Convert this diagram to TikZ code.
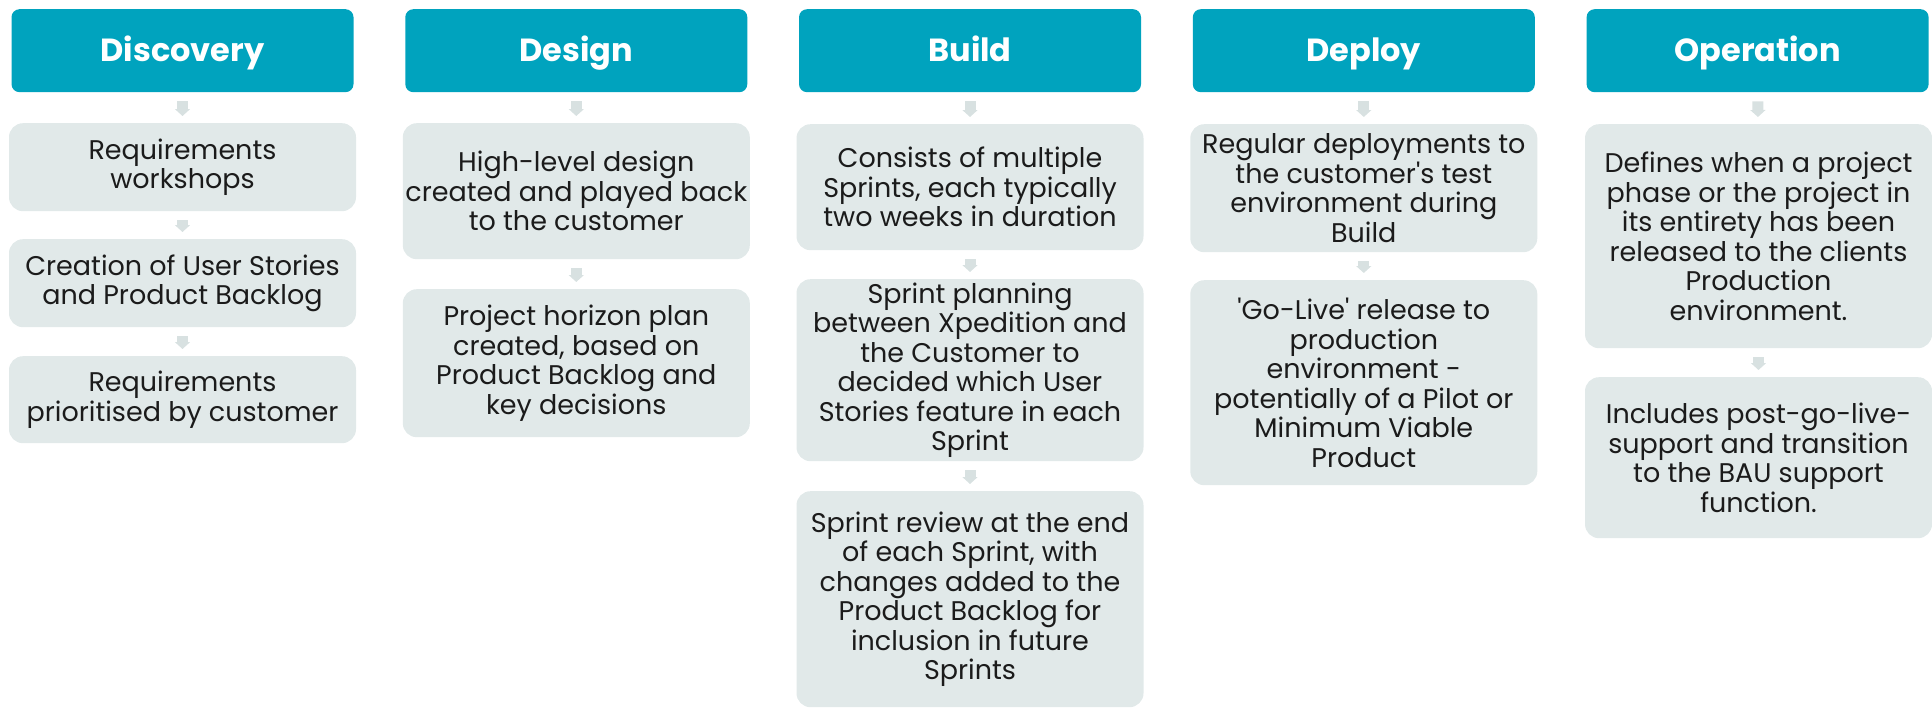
\documentclass[tikz,border=0pt]{standalone}
\usepackage{fontspec}
\setmainfont{Poppins}
\usetikzlibrary{arrows.meta}
\definecolor{phaseteal}{HTML}{00A3BE}
\definecolor{cardgrey}{HTML}{E1E9E9}
\definecolor{arrowgrey}{HTML}{D8E1E1}
\definecolor{inktext}{HTML}{1B1B1B}
\tikzset{
  phase/.style={fill=phaseteal, rounded corners=8pt, minimum width=342pt, minimum height=83pt,
    anchor=north, inner sep=0pt, text height=29pt, text depth=8pt, text=white,
    font=\fontsize{32}{36}\selectfont\bfseries},
  card/.style={fill=cardgrey, rounded corners=14pt, minimum width=347pt, anchor=north,
    inner sep=0pt, align=center, text=inktext, font=\fontsize{27}{29.5}\selectfont},
  flow/.style={draw=arrowgrey, line width=11pt, -{Triangle[width=15pt,length=7pt]},
    shorten <=9pt, shorten >=7pt},
}
\begin{document}
\begin{tikzpicture}[x=1pt, y=-1pt]
			\useasboundingbox (0,0) rectangle (1932,709);
			\node [phase] (discovery) at (182.5,9) {Discovery};
			\node [phase] (design) at (576.3,9) {Design};
			\node [phase] (build) at (970,9) {Build};
			\node [phase] (deploy) at (1363.8,9) {Deploy};
			\node [phase] (operation) at (1757.6,9) {Operation};
			\node [card, minimum height=88pt] (disc1) at (182.5,123) {Requirements\\workshops};
			\node [card, minimum height=88pt] (disc2) at (182.5,239) {Creation of User Stories\\and Product Backlog};
			\node [card, minimum height=87pt] (disc3) at (182.5,356) {Requirements\\prioritised by customer};
			\node [card, minimum height=136pt] (des1) at (576.3,123) {High-level design\\created and played back\\to the customer};
			\node [card, minimum height=148pt] (des2) at (576.3,289) {Project horizon plan\\created, based on\\Product Backlog and\\key decisions};
			\node [card, minimum height=126pt] (bld1) at (970,124) {Consists of multiple\\Sprints, each typically\\two weeks in duration};
			\node [card, minimum height=182pt] (bld2) at (970,279) {Sprint planning\\between Xpedition and\\the Customer to\\decided which User\\Stories feature in each\\Sprint};
			\node [card, minimum height=216pt] (bld3) at (970,491) {Sprint review at the end\\of each Sprint, with\\changes added to the\\Product Backlog for\\inclusion in future\\Sprints};
			\node [card, minimum height=128pt] (dep1) at (1363.8,124) {Regular deployments to\\the customer\textquotesingle s test\\environment during\\Build};
			\node [card, minimum height=205pt] (dep2) at (1363.8,280) {\textquotesingle Go-Live\textquotesingle{} release to\\production\\environment -\\potentially of a Pilot or\\Minimum Viable\\Product};
			\node [card, minimum height=224pt] (op1) at (1758.5,124) {Defines when a project\\phase or the project in\\its entirety has been\\released to the clients\\Production\\environment.};
			\node [card, minimum height=161pt] (op2) at (1758.5,377) {Includes post-go-live-\\support and transition\\to the BAU support\\function.};
			\draw [flow] (discovery) -- (disc1);
			\draw [flow] (disc1) -- (disc2);
			\draw [flow] (disc2) -- (disc3);
			\draw [flow] (design) -- (des1);
			\draw [flow] (des1) -- (des2);
			\draw [flow] (build) -- (bld1);
			\draw [flow] (bld1) -- (bld2);
			\draw [flow] (bld2) -- (bld3);
			\draw [flow] (deploy) -- (dep1);
			\draw [flow] (dep1) -- (dep2);
			\draw [flow] (operation) -- (op1);
			\draw [flow] (op1) -- (op2);
		\end{tikzpicture}
\end{document}
